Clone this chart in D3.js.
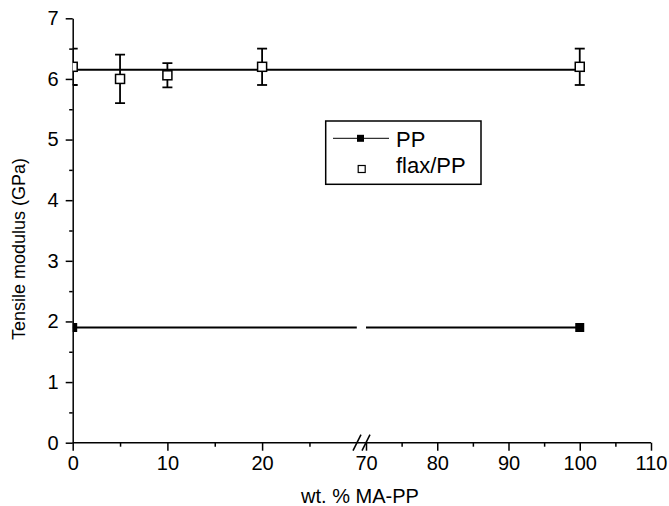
<!DOCTYPE html>
<html>
<head>
<meta charset="utf-8">
<script src="https://cdn.jsdelivr.net/npm/d3@7"></script>
<style>
  body { margin: 0; background: #fff; }
  svg { font-family: "Liberation Sans", Arial, sans-serif; }
  .axis path, .axis line { stroke: #000; stroke-width: 1.5; }
  .axis text { fill: #000; }
</style>
</head>
<body>
<script>
// data
var flaxX = [0, 5, 10, 20, 100];
var flaxY = [6.2, 6.0, 6.06, 6.2, 6.2];
var flaxErr = [0.3, 0.4, 0.2, 0.3, 0.3];
var ppX = [0, 100];
var ppY = [1.9, 1.9];
var fitX = [0, 100];
var fitY = [6.15, 6.15];
var xTicksLeft = [0, 10, 20];
var xTicksRight = [70, 80, 90, 100, 110];
var xMinorLeft = [5, 15, 25];
var xMinorRight = [75, 85, 95, 105];
var yTicks = [0, 1, 2, 3, 4, 5, 6, 7];
var yMinor = [0.5, 1.5, 2.5, 3.5, 4.5, 5.5, 6.5];
var legendLabels = ["PP", "flax/PP"];

(function(){
  var width = 669, height = 506;

  var svg = d3.select("body").append("svg")
    .attr("width", width)
    .attr("height", height);

  // broken x axis: two linear pieces
  var xLeft = d3.scaleLinear().domain([0, 30]).range([72.7, 356.8]);
  var xRight = d3.scaleLinear().domain([70, 110]).range([366, 651]);
  function x(v){ return v <= 30 ? xLeft(v) : xRight(v); }

  var y = d3.scaleLinear().domain([0, 7]).range([442.7, 18.3]);

  // clip to plot area
  svg.append("clipPath").attr("id", "plotClip")
    .append("rect")
    .attr("x", xLeft(0)).attr("y", 0)
    .attr("width", width - xLeft(0)).attr("height", y(0));

  // x axis pieces
  function xAxisPiece(scale, major, minor){
    var g = svg.append("g").attr("class", "axis")
      .attr("transform", "translate(0," + y(0) + ")");
    g.call(d3.axisBottom(scale).tickValues(major).tickSize(8).tickSizeOuter(0)
      .tickFormat(d3.format("d")));
    g.select(".domain").remove();
    g.selectAll("text").attr("font-size", 20).attr("y", 13).attr("dy", "0.71em");
    var gm = svg.append("g").attr("class", "axis")
      .attr("transform", "translate(0," + y(0) + ")");
    gm.call(d3.axisBottom(scale).tickValues(minor).tickSize(4).tickFormat(""));
    gm.select(".domain").remove();
  }
  xAxisPiece(xLeft, xTicksLeft, xMinorLeft);
  xAxisPiece(xRight, xTicksRight, xMinorRight);

  // x axis line
  svg.append("line")
    .attr("x1", xLeft(0)).attr("x2", xRight(110))
    .attr("y1", y(0)).attr("y2", y(0))
    .attr("stroke", "#000").attr("stroke-width", 1.5);

  // break marks
  [357, 366].forEach(function(bx){
    svg.append("line")
      .attr("x1", bx - 4).attr("y1", y(0) + 8)
      .attr("x2", bx + 4).attr("y2", y(0) - 8)
      .attr("stroke", "#000").attr("stroke-width", 1.5);
  });

  // y axis
  var yAxis = svg.append("g").attr("class", "axis")
    .attr("transform", "translate(" + xLeft(0) + ",0)")
    .call(d3.axisLeft(y).tickValues(yTicks).tickSize(7).tickSizeOuter(0)
      .tickFormat(d3.format("d")));
  yAxis.selectAll("text").attr("font-size", 20).attr("x", -14);
  var yMin = svg.append("g").attr("class", "axis")
    .attr("transform", "translate(" + xLeft(0) + ",0)")
    .call(d3.axisLeft(y).tickValues(yMinor).tickSize(3.5).tickFormat(""));
  yMin.select(".domain").remove();

  // axis titles
  svg.append("text")
    .attr("x", 360).attr("y", 503)
    .attr("text-anchor", "middle")
    .attr("font-size", 20)
    .text("wt. % MA-PP");

  svg.append("text")
    .attr("transform", "translate(25,249) rotate(-90)")
    .attr("text-anchor", "middle")
    .attr("font-size", 18)
    .text("Tensile modulus (GPa)");

  var plot = svg.append("g").attr("clip-path", "url(#plotClip)");

  // flax/PP fit line
  plot.append("line")
    .attr("x1", x(fitX[0])).attr("x2", x(fitX[1]))
    .attr("y1", y(fitY[0])).attr("y2", y(fitY[1]))
    .attr("stroke", "#000").attr("stroke-width", 2);

  // PP line, interrupted at the axis break
  var ppSegs = [[ppX[0], 30], [70, ppX[1]]];
  ppSegs.forEach(function(s){
    plot.append("line")
      .attr("x1", x(s[0])).attr("x2", x(s[1]))
      .attr("y1", y(ppY[0])).attr("y2", y(ppY[1]))
      .attr("stroke", "#000").attr("stroke-width", 2);
  });

  // error bars
  var flax = flaxX.map(function(d, i){ return {x: d, y: flaxY[i], e: flaxErr[i]}; });
  var eb = plot.selectAll(".err").data(flax).enter().append("g").attr("class", "err")
    .attr("stroke", "#000").attr("stroke-width", 1.8);
  eb.append("line")
    .attr("x1", function(d){ return x(d.x); }).attr("x2", function(d){ return x(d.x); })
    .attr("y1", function(d){ return y(d.y + d.e); }).attr("y2", function(d){ return y(d.y - d.e); });
  eb.append("line")
    .attr("x1", function(d){ return x(d.x) - 5; }).attr("x2", function(d){ return x(d.x) + 5; })
    .attr("y1", function(d){ return y(d.y + d.e); }).attr("y2", function(d){ return y(d.y + d.e); });
  eb.append("line")
    .attr("x1", function(d){ return x(d.x) - 5; }).attr("x2", function(d){ return x(d.x) + 5; })
    .attr("y1", function(d){ return y(d.y - d.e); }).attr("y2", function(d){ return y(d.y - d.e); });

  // open squares
  plot.selectAll(".flax").data(flax).enter().append("rect")
    .attr("class", "flax")
    .attr("x", function(d){ return x(d.x) - 4.5; })
    .attr("y", function(d){ return y(d.y) - 4.5; })
    .attr("width", 9).attr("height", 9)
    .attr("fill", "#fff").attr("stroke", "#000").attr("stroke-width", 1.5);

  // filled squares
  plot.selectAll(".pp").data(ppX).enter().append("rect")
    .attr("class", "pp")
    .attr("x", function(d){ return x(d) - 4.5; })
    .attr("y", function(d, i){ return y(ppY[i]) - 4.5; })
    .attr("width", 9).attr("height", 9)
    .attr("fill", "#000");

  // legend
  var lg = svg.append("g");
  lg.append("rect")
    .attr("x", 325.7).attr("y", 121)
    .attr("width", 155.3).attr("height", 63.3)
    .attr("fill", "#fff").attr("stroke", "#000").attr("stroke-width", 1.5);
  lg.append("line").attr("x1", 333).attr("x2", 389).attr("y1", 138.3).attr("y2", 138.3)
    .attr("stroke", "#000").attr("stroke-width", 1);
  lg.append("rect").attr("x", 357).attr("y", 134.8).attr("width", 7).attr("height", 7)
    .attr("fill", "#000");
  lg.append("rect").attr("x", 358.2).attr("y", 165.5).attr("width", 7).attr("height", 7)
    .attr("fill", "#fff").attr("stroke", "#000").attr("stroke-width", 1.2);
  lg.selectAll(".lgText").data(legendLabels).enter().append("text")
    .attr("x", 396)
    .attr("y", function(d, i){ return 147.3 + i * 26; })
    .attr("font-size", 22)
    .text(function(d){ return d; });
})();
</script>
</body>
</html>
